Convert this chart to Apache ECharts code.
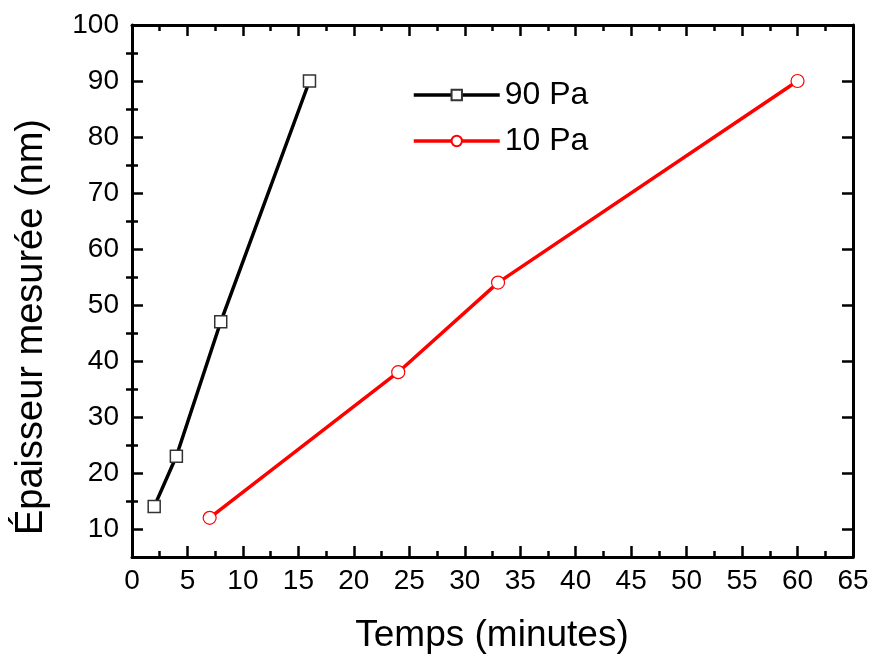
<!DOCTYPE html>
<html><head><meta charset="utf-8">
<script src="https://cdn.jsdelivr.net/npm/echarts@6/dist/echarts.min.js"></script>
<style>html,body{margin:0;padding:0;background:#fff}#c{width:872px;height:656px}</style>
</head><body><div id="c"></div>
<script>
const x90 = [2, 4, 8, 16];
const y90 = [14, 23, 47, 90];
const x10 = [7, 24, 33, 60];
const y10 = [12, 38, 54, 90];
const yMajor = [10,20,30,40,50,60,70,80,90,100];
const yMinor = [15,25,35,45,55,65,75,85,95];
const xTitle = 'Temps (minutes)';
const yTitle = 'Épaisseur mesurée (nm)';
const FONT = 'Liberation Sans';

const chart = echarts.init(document.getElementById('c'));
const baseX = {
  type:'value', min:0, max:65, interval:5,
  splitLine:{show:false},
  axisLine:{show:true, onZero:false, lineStyle:{color:'#000', width:3}},
  axisTick:{show:true, inside:true, length:11, lineStyle:{color:'#000', width:2.5}},
  minorTick:{show:true, splitNumber:2, length:6, lineStyle:{color:'#000', width:2.5}},
};
const baseY = {
  type:'value', min:5, max:100,
  splitLine:{show:false},
  axisLine:{show:true, onZero:false, lineStyle:{color:'#000', width:3}},
};
chart.setOption({
  animation:false,
  grid:{left:132, right:19, top:25, bottom:99, containLabel:false},
  legend:{
    left:407, top:74, orient:'vertical', itemWidth:86, itemHeight:13, itemGap:14,
    lineStyle:{width:3.5},
    textStyle:{fontFamily:FONT, fontSize:32, color:'#000', padding:[0,0,0,0]},
    data:['90 Pa','10 Pa']
  },
  graphic:[
    {type:'text', x:492, y:636, style:{text:xTitle, font:'37px "Liberation Sans"', fill:'#000', align:'center', verticalAlign:'middle'}},
    {type:'text', x:32, y:327, rotation:Math.PI/2, style:{text:yTitle, font:'38px "Liberation Sans"', fill:'#000', align:'center', verticalAlign:'middle'}}
  ],
  xAxis:[
    Object.assign({}, baseX, {position:'bottom',
      axisLabel:{show:true, margin:10, fontFamily:FONT, fontSize:28, color:'#000'}}),
    Object.assign({}, baseX, {position:'top', axisLabel:{show:false}})
  ],
  yAxis:[
    Object.assign({}, baseY, {position:'left',
      axisTick:{show:true, inside:true, length:11, customValues:yMajor, lineStyle:{color:'#000', width:2.5}},
      axisLabel:{show:true, margin:13, customValues:yMajor, fontFamily:FONT, fontSize:28, color:'#000'}}),
    Object.assign({}, baseY, {position:'left', axisLine:{show:false},
      axisTick:{show:true, inside:true, length:6, customValues:yMinor, lineStyle:{color:'#000', width:2.5}},
      axisLabel:{show:false}}),
    Object.assign({}, baseY, {position:'right',
      axisTick:{show:true, inside:true, length:11, customValues:yMajor, lineStyle:{color:'#000', width:2.5}},
      axisLabel:{show:false}}),
    Object.assign({}, baseY, {position:'right', axisLine:{show:false},
      axisTick:{show:true, inside:true, length:6, customValues:yMinor, lineStyle:{color:'#000', width:2.5}},
      axisLabel:{show:false}})
  ],
  series:[
    {name:'90 Pa', type:'line', xAxisIndex:0, yAxisIndex:0,
     data:x90.map((v,i)=>[v,y90[i]]),
     symbol:'rect', symbolSize:12, showAllSymbol:true,
     lineStyle:{color:'#000', width:3.5},
     itemStyle:{color:'#fff', borderColor:'#333', borderWidth:1.5}},
    {name:'10 Pa', type:'line', xAxisIndex:0, yAxisIndex:0,
     data:x10.map((v,i)=>[v,y10[i]]),
     symbol:'circle', symbolSize:13, showAllSymbol:true,
     lineStyle:{color:'#ff0000', width:3.5},
     itemStyle:{color:'#fff', borderColor:'#ff0000', borderWidth:1.2}}
  ]
});
</script></body></html>
